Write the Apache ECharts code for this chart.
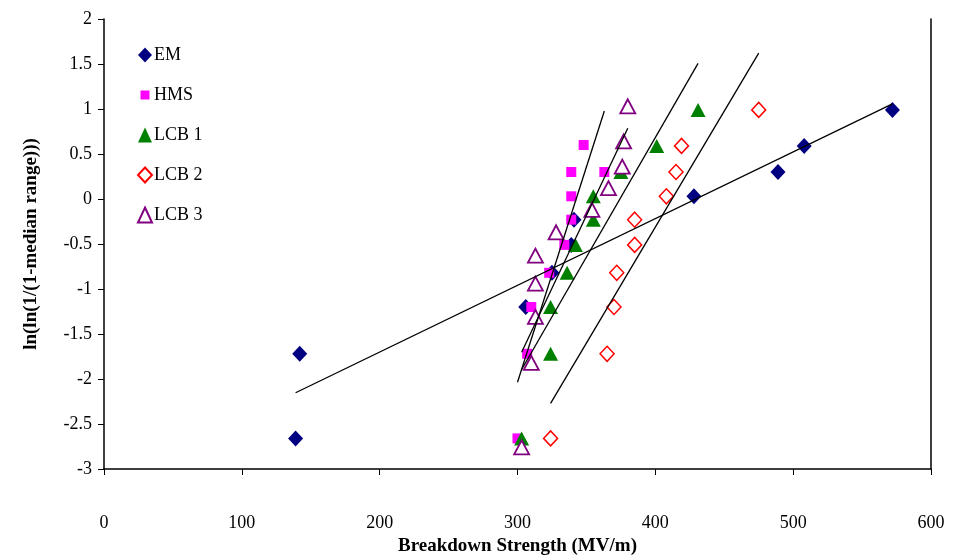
<!DOCTYPE html>
<html>
<head>
<meta charset="utf-8">
<script src="https://cdn.jsdelivr.net/npm/echarts@6/dist/echarts.min.js"></script>
<style>html,body{margin:0;padding:0;background:#fff}#c{width:953px;height:558px}</style>
</head>
<body>
<div id="c"></div>
<script>
// Data
const emX   = [139, 142, 306, 325, 339, 341, 428, 489, 508, 572];
const emY   = [-2.66, -1.72, -1.2, -0.82, -0.51, -0.23, 0.03, 0.30, 0.59, 0.99];
const hmsX  = [300, 307, 310, 323, 334, 339, 339, 339, 363, 348];
const hmsY  = [-2.66, -1.72, -1.2, -0.82, -0.51, -0.23, 0.03, 0.30, 0.30, 0.60];
const lcb1X = [303, 324, 324, 336, 342, 355, 355, 375, 401, 431];
const lcb1Y = [-2.66, -1.72, -1.2, -0.82, -0.51, -0.23, 0.03, 0.30, 0.59, 0.99];
const lcb2X = [324, 365, 370, 372, 385, 385, 408, 415, 419, 475];
const lcb2Y = [-2.66, -1.72, -1.2, -0.82, -0.51, -0.23, 0.03, 0.30, 0.59, 0.99];
const lcb3X = [303, 310, 313, 313, 313, 328, 354, 366, 376, 377, 380];
const lcb3Y = [-2.76, -1.82, -1.31, -0.94, -0.63, -0.37, -0.12, 0.12, 0.36, 0.64, 1.03];
const seriesNames = ['EM', 'HMS', 'LCB 1', 'LCB 2', 'LCB 3'];
const xTicks = [0, 100, 200, 300, 400, 500, 600];
const yTicks = [-3, -2.5, -2, -1.5, -1, -0.5, 0, 0.5, 1, 1.5, 2];

function pairs(xs, ys) { return xs.map((x, i) => [x, ys[i]]); }
// Linear (least squares) trendline over the data's x range
function trend(xs, ys) {
  const n = xs.length;
  const mx = xs.reduce((a, b) => a + b, 0) / n;
  const my = ys.reduce((a, b) => a + b, 0) / n;
  let sxy = 0, sxx = 0;
  for (let i = 0; i < n; i++) { sxy += (xs[i] - mx) * (ys[i] - my); sxx += (xs[i] - mx) ** 2; }
  const b = sxy / sxx, a = my - b * mx;
  const x0 = Math.min(...xs), x1 = Math.max(...xs);
  return [[x0, a + b * x0], [x1, a + b * x1]];
}

const font = 'Liberation Serif';
const groups = [
  {name: seriesNames[0], x: emX, y: emY, symbol: 'diamond', size: [15, 16], style: {color: '#000080', opacity: 1}},
  {name: seriesNames[1], x: hmsX, y: hmsY, symbol: 'rect', size: 10, style: {color: '#FF00FF', opacity: 1},
   legendIcon: 'path://M0,0M14,15M2.5,3L11.5,3L11.5,12L2.5,12Z'},
  {name: seriesNames[2], x: lcb1X, y: lcb1Y, symbol: 'triangle', size: [15, 14], style: {color: '#008000', opacity: 1}},
  {name: seriesNames[3], x: lcb2X, y: lcb2Y, symbol: 'diamond', size: [14, 15], style: {color: '#fff', borderColor: '#FF0000', borderWidth: 1.5, opacity: 1}},
  {name: seriesNames[4], x: lcb3X, y: lcb3Y, symbol: 'triangle', size: [15, 14], style: {color: '#fff', borderColor: '#800080', borderWidth: 1.8, opacity: 1}}
];

const series = [];
groups.forEach(g => {
  series.push({
    name: g.name, type: 'scatter', data: pairs(g.x, g.y),
    symbol: g.symbol, symbolSize: g.size, itemStyle: g.style, z: 3
  });
});
groups.forEach(g => {
  series.push({
    type: 'line', data: trend(g.x, g.y), symbol: 'none', silent: true,
    lineStyle: {color: '#000', width: 1.3}, z: 4
  });
});

const chart = echarts.init(document.getElementById('c'));
chart.setOption({
  animation: false,
  backgroundColor: '#fff',
  grid: {left: 104, right: 22, top: 19, bottom: 89, containLabel: false, outerBoundsMode: 'none'},
  legend: {
    data: groups.map(g => ({name: g.name, icon: g.legendIcon || g.symbol})),
    orient: 'vertical', left: 132, top: 41, itemGap: 22, itemWidth: 14, itemHeight: 15,
    textStyle: {fontFamily: font, fontSize: 18, color: '#000', padding: [0, 0, 0, -3]}
  },
  xAxis: {
    type: 'value', min: xTicks[0], max: xTicks[xTicks.length - 1], interval: 100,
    name: 'Breakdown Strength (MV/m)', nameLocation: 'middle', nameGap: 66,
    nameTextStyle: {fontFamily: font, fontSize: 19, fontWeight: 'bold', color: '#000'},
    axisLine: {onZero: false, lineStyle: {color: '#000', width: 1.5}},
    axisTick: {length: 6, lineStyle: {color: '#000'}},
    axisLabel: {fontFamily: font, fontSize: 18, color: '#000', margin: 45},
    splitLine: {show: false}
  },
  yAxis: [{
    type: 'value', min: yTicks[0], max: yTicks[yTicks.length - 1], interval: 0.5,
    name: 'ln(ln(1/(1-median range)))', nameLocation: 'middle', nameGap: 63, nameRotate: 90,
    nameTextStyle: {fontFamily: font, fontSize: 19, fontWeight: 'bold', color: '#000'},
    axisLine: {lineStyle: {color: '#000', width: 1.5}},
    axisTick: {length: 6, lineStyle: {color: '#000'}},
    axisLabel: {fontFamily: font, fontSize: 18, color: '#000', margin: 12},
    splitLine: {show: false}
  }, {
    type: 'value', min: yTicks[0], max: yTicks[yTicks.length - 1], position: 'right',
    axisLine: {show: true, lineStyle: {color: '#000', width: 1.5}},
    axisTick: {show: false}, axisLabel: {show: false}, splitLine: {show: false}
  }],
  series: series
});
</script>
</body>
</html>
